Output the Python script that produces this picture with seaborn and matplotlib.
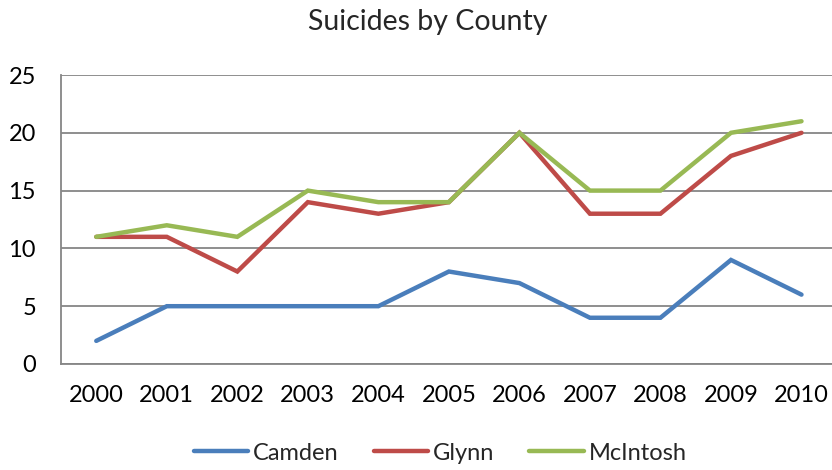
import matplotlib
matplotlib.use("Agg")
import matplotlib.pyplot as plt
import seaborn as sns
import pandas as pd
from matplotlib.lines import Line2D

years = ["2000", "2001", "2002", "2003", "2004", "2005", "2006", "2007", "2008", "2009", "2010"]
camden = [2, 5, 5, 5, 5, 8, 7, 4, 4, 9, 6]
glynn = [11, 11, 8, 14, 13, 14, 20, 13, 13, 18, 20]
mcintosh = [11, 12, 11, 15, 14, 14, 20, 15, 15, 20, 21]
series_names = ["Camden", "Glynn", "McIntosh"]
colors = ["#4A7EBB", "#BE4B48", "#98B954"]

rows = []
for name, vals in zip(series_names, [camden, glynn, mcintosh]):
    for i, (y, v) in enumerate(zip(years, vals)):
        rows.append({"idx": i, "year": y, "value": v, "County": name})
df = pd.DataFrame(rows)

sns.set_theme(style="white")
plt.rcParams["font.family"] = ["Lato", "DejaVu Sans"]

fig = plt.figure(figsize=(8.32, 4.70), dpi=100)
ax = fig.add_axes([61/832, 1-364/470, 1-61/832, (364-75)/470])

sns.lineplot(data=df, x="idx", y="value", hue="County", palette=colors,
             linewidth=3.2, ax=ax, legend=False, solid_capstyle="round",
             solid_joinstyle="miter")

ax.set_xlim(-0.5, (832-96.5)/70.5)
ax.set_ylim(0, 25)
ax.set_yticks(range(0, 26, 5))
ax.set_xticks(range(len(years)))
ax.set_xticklabels(years)
ax.yaxis.grid(True, color="#868686", linewidth=1.3)
ax.set_axisbelow(True)
ax.tick_params(axis="both", length=0, labelsize=17, colors="black")
ax.tick_params(axis="x", pad=15)
ax.tick_params(axis="y", pad=18)
for s in ["top", "right"]:
    ax.spines[s].set_visible(False)
for s in ["left", "bottom"]:
    ax.spines[s].set_color("#868686")
    ax.spines[s].set_linewidth(1.3)
ax.set_xlabel("")
ax.set_ylabel("")

fig.text(0.514, 1-22/470, "Suicides by County", ha="center", va="center", fontsize=20.5)

handles = [Line2D([0], [0], color=c, lw=3.2, solid_capstyle="round") for c in colors]
fig.legend(handles, series_names, loc="center", bbox_to_anchor=(440/832, 1-453/470),
           ncol=3, frameon=False, fontsize=17, handlelength=2.3, columnspacing=1.5,
           handletextpad=0.2)

fig.savefig("out.png", dpi=100)
